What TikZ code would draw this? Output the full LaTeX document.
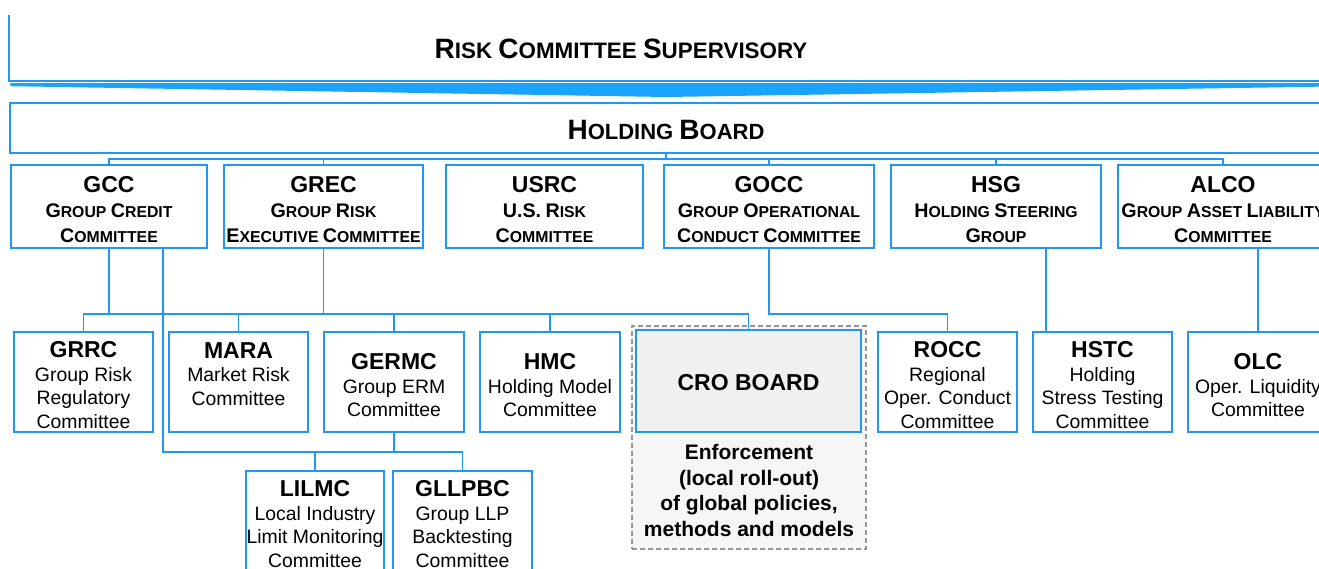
\documentclass[tikz,border=0pt]{standalone}
\usepackage{fontspec}
\setmainfont{Liberation Sans}
\definecolor{lineblue}{RGB}{33,150,243}
\definecolor{bandblue}{RGB}{26,162,255}
\definecolor{dashgray}{RGB}{150,150,150}
\definecolor{outerfill}{RGB}{246,246,246}
\definecolor{crofill}{RGB}{240,240,240}
\newcommand\Lc[1]{{\fontsize{19.7pt}{24.5pt}\selectfont #1}}
\newcommand\Tc[1]{{\fontsize{28pt}{30pt}\selectfont #1}}
\newcommand\Ac[1]{{\fontsize{23pt}{23.5pt}\selectfont\bfseries\rule{0pt}{22.5pt}#1}}
\newcommand\Bc[1]{{\fontsize{23pt}{24pt}\selectfont\bfseries #1}}
\begin{document}
\begin{tikzpicture}[x=1pt,y=-1pt,
  box/.style={draw=lineblue,line width=1.6pt,fill=white,rectangle,inner sep=0pt,align=center},
  topbox/.style={box,minimum height=83pt,font=\fontsize{15.8pt}{25pt}\selectfont\bfseries},
  lowbox/.style={box,minimum height=100pt,minimum width=139pt,font=\fontsize{19.4pt}{23.5pt}\selectfont},
  conn/.style={draw=lineblue,line width=1.3pt},
  titletext/.style={font=\fontsize{22.4pt}{26pt}\selectfont\bfseries,inner sep=0pt},
]
\clip (0,0) rectangle (1319,568);

% supervisory band
\draw[draw=lineblue,line width=1.6pt] (9,15) -- (9,81) -- (1330,81);
\node[titletext] (rcs) at (621,48.5) {\Tc{R}ISK \Tc{C}OMMITTEE \Tc{S}UPERVISORY};
\fill[bandblue,rounded corners=1.2pt] (10,83) -- (1330,83) -- (1330,86.5) -- (666,97) -- (10,86.2) -- cycle;

% holding board
\node[box,minimum width=1312pt,minimum height=50pt,font=\fontsize{22pt}{26pt}\selectfont\bfseries] (hb) at (666,128) {\rule{0pt}{24pt}\Tc{H}OLDING \Tc{B}OARD};

% first level
\node[topbox,minimum width=196pt] (gcc)  at (109,206.5)   {\Ac{GCC}\\\Lc{G}ROUP \Lc{C}REDIT\\\Lc{C}OMMITTEE};
\node[topbox,minimum width=199pt] (grec) at (323.5,206.5) {\Ac{GREC}\\\Lc{G}ROUP \Lc{R}ISK\\\Lc{E}XECUTIVE \Lc{C}OMMITTEE};
\node[topbox,minimum width=197pt] (usrc) at (544.5,206.5) {\Ac{USRC}\\\Lc{U.S.} \Lc{R}ISK\\\Lc{C}OMMITTEE};
\node[topbox,minimum width=210pt] (gocc) at (769,206.5)   {\Ac{GOCC}\\\Lc{G}ROUP \Lc{O}PERATIONAL\\\Lc{C}ONDUCT \Lc{C}OMMITTEE};
\node[topbox,minimum width=210pt] (hsg)  at (996,206.5)   {\Ac{HSG}\\\Lc{H}OLDING \Lc{S}TEERING\\\Lc{G}ROUP};
\node[topbox,minimum width=210pt] (alco) at (1223,206.5)  {\Ac{ALCO}\\\Lc{G}ROUP \Lc{A}SSET \Lc{L}IABILITY\\\Lc{C}OMMITTEE};

% CRO group
\node[draw=dashgray,dashed,dash pattern=on 5pt off 3pt,line width=1.2pt,fill=outerfill,minimum width=234pt,minimum height=223pt,inner sep=0pt] (crogrp) at (749,437.5) {};
\node[box,fill=crofill,minimum width=225pt,minimum height=102pt] (cro) at (748.5,381) {\rule{0pt}{18.5pt}\Bc{CRO BOARD}};
\node[align=center,inner sep=0pt,font=\fontsize{21pt}{25.7pt}\selectfont\bfseries] (enf) at (749,490.5) {Enforcement\\(local roll-out)\\of global policies,\\methods and models};

% second level
\node[lowbox] (grrc)  at (83.5,382)  {\Ac{GRRC}\\Group Risk\\Regulatory\\Committee};
\node[lowbox] (mara)  at (238.5,382) {\Ac{MARA}\\Market Risk\\Committee\\\mbox{}};
\node[lowbox,minimum width=140pt] (germc) at (394,382) {\Ac{GERMC}\\Group ERM\\Committee};
\node[lowbox,minimum width=140pt] (hmc)   at (550,382) {\Ac{HMC}\\Holding Model\\Committee};
\node[lowbox] (rocc)  at (947.5,382) {\Ac{ROCC}\\Regional\\Oper. Conduct\\Committee};
\node[lowbox] (hstc)  at (1102.5,382) {\Ac{HSTC}\\Holding\\Stress Testing\\Committee};
\node[lowbox,minimum width=140pt] (olc) at (1258,382) {\Ac{OLC}\\Oper. Liquidity\\Committee};

% third level
\node[lowbox,minimum width=138pt] (lilmc)  at (315,521)   {\Ac{LILMC}\\Local Industry\\Limit Monitoring\\Committee};
\node[lowbox] (gllpbc) at (462.5,521) {\Ac{GLLPBC}\\Group LLP\\Backtesting\\Committee};

% bus levels
\coordinate (bus1) at (0,159);
\coordinate (bus2) at (0,314);
\coordinate (bus3) at (0,452);
\coordinate (gccb) at ([xshift=54pt]gcc.south);
\coordinate (hsgb) at ([xshift=50pt]hsg.south);

% connectors
\draw[conn] (hb.south) -- (hb.south |- bus1);
\draw[conn] (gcc.north) -- (gcc.north |- bus1) -- (alco.north |- bus1) -- (alco.north);
\foreach \n in {grec,gocc,hsg} \draw[conn] (\n.north) -- (\n.north |- bus1);

\draw[conn] (gcc.south) -- (gcc.south |- bus2);
\draw[conn] (grec.south) -- (grec.south |- bus2);
\draw[conn] (grrc.north) -- (grrc.north |- bus2) -- (cro.north |- bus2) -- (cro.north);
\foreach \n in {mara,germc,hmc} \draw[conn] (\n.north) -- (\n.north |- bus2);

\draw[conn] (gccb) -- (gccb |- bus3) -- (gllpbc.north |- bus3) -- (gllpbc.north);
\draw[conn] (germc.south) -- (germc.south |- bus3);
\draw[conn] (lilmc.north) -- (lilmc.north |- bus3);

\draw[conn] (gocc.south) -- (gocc.south |- bus2) -- (rocc.north |- bus2) -- (rocc.north);
\draw[conn] (hsgb) -- (hsgb |- hstc.north);
\draw[conn] (olc.north) -- (olc.north |- alco.south);
\end{tikzpicture}
\end{document}
